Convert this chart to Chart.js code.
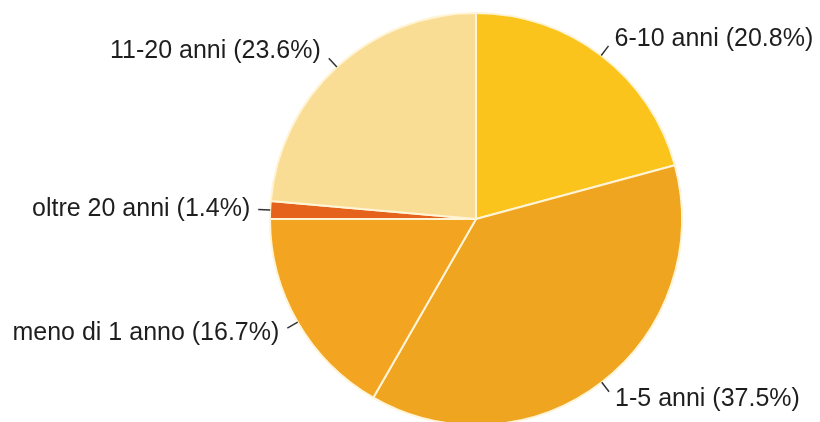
<!DOCTYPE html>
<html>
<head>
<meta charset="utf-8">
<script src="https://cdn.jsdelivr.net/npm/chart.js@4/dist/chart.umd.min.js"></script>
<style>
  html, body { margin: 0; padding: 0; background: #fff; overflow: hidden; }
  canvas { display: block; }
</style>
</head>
<body>
<canvas id="myChart" width="820" height="438"></canvas>
<script>
const categories = ["6-10 anni", "1-5 anni", "meno di 1 anno", "oltre 20 anni", "11-20 anni"];
const percentages = [20.8, 37.5, 16.7, 1.4, 23.6];
const sliceColors = ["#fbc41c", "#efa520", "#f3a420", "#e5621c", "#fadd95"];

// leader ticks + "name (xx.x%)" text outside each slice
const outsideLabels = {
  id: "outsideLabels",
  afterDatasetsDraw(chart) {
    const ctx = chart.ctx;
    const meta = chart.getDatasetMeta(0);
    ctx.save();
    ctx.font = "25px 'Liberation Sans', Arial, sans-serif";
    ctx.fillStyle = "#1e1e1e";
    ctx.strokeStyle = "#333";
    ctx.lineWidth = 1.5;
    ctx.textBaseline = "middle";
    meta.data.forEach((arc, i) => {
      const { x, y, startAngle, endAngle, outerRadius } = arc.getProps(
        ["x", "y", "startAngle", "endAngle", "outerRadius"], true);
      const mid = (startAngle + endAngle) / 2;
      const c = Math.cos(mid), s = Math.sin(mid);
      const x0 = x + c * outerRadius, y0 = y + s * outerRadius;
      const x1 = x + c * (outerRadius + 12), y1 = y + s * (outerRadius + 12);
      ctx.beginPath();
      ctx.moveTo(x0, y0);
      ctx.lineTo(x1, y1);
      ctx.stroke();
      const text = categories[i] + " (" + percentages[i].toFixed(1) + "%)";
      const right = c >= 0;
      ctx.textAlign = right ? "left" : "right";
      ctx.fillText(text, x1 + (right ? 6 : -8), y1 + s * 9);
    });
    ctx.restore();
  }
};

new Chart(document.getElementById("myChart").getContext("2d"), {
  type: "pie",
  data: {
    labels: categories,
    datasets: [
      {
        data: percentages,
        backgroundColor: sliceColors,
        borderColor: "#fff4d6",
        borderWidth: 2,
      },
    ],
  },
  options: {
    responsive: false,
    animation: false,
    radius: 206,
    layout: { padding: { left: 132, right: 0, top: 0, bottom: 0 } },
    plugins: {
      legend: { display: false },
      tooltip: { enabled: false },
    },
  },
  plugins: [outsideLabels],
});
</script>
</body>
</html>
